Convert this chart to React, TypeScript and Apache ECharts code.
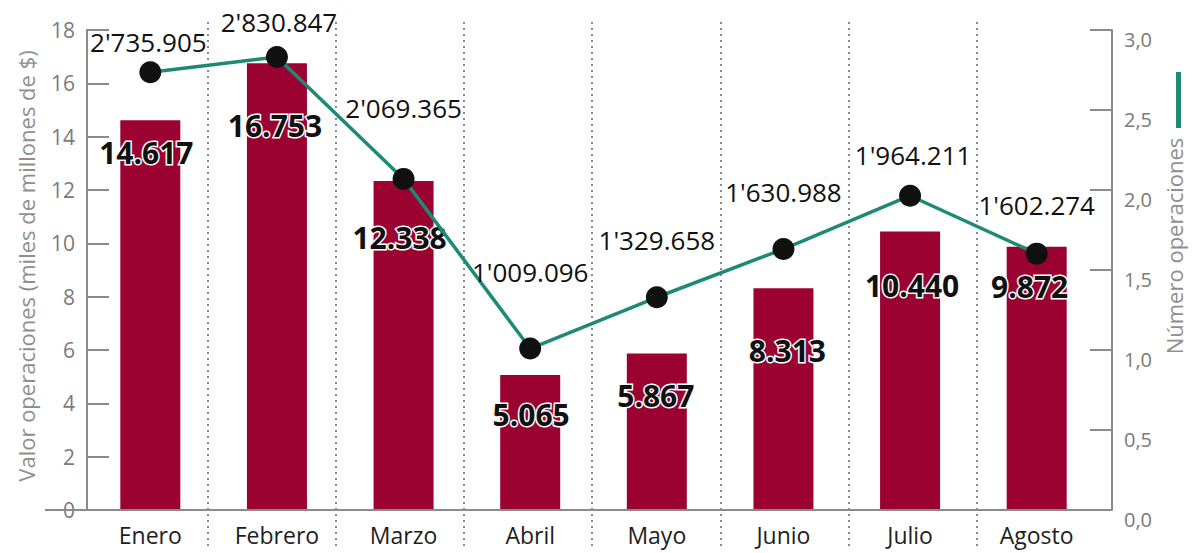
import React, { useEffect, useRef } from "react";
import * as echarts from "echarts";

const meses = ["Enero", "Febrero", "Marzo", "Abril", "Mayo", "Junio", "Julio", "Agosto"];
// Valor operaciones (miles de millones de $)
const valorOperaciones = [14.617, 16.753, 12.338, 5.065, 5.867, 8.313, 10.44, 9.872];
// Número de operaciones
const numeroOperaciones = [2735905, 2830847, 2069365, 1009096, 1329658, 1630988, 1964211, 1602274];

// label placement (style, not data)
const lineLabelOffsets = [[-2, -30], [2, -35], [0, -71], [0, -77], [0, -57], [0, -57], [3, -41], [0, -49]];
const barLabelOffsets = [[-4, 32], [-2, 62], [-4, 57], [1, 40], [-1, 42], [4, 62], [2, 54], [-7, 40]];

const BAR = "#9c0231";
const TEAL = "#1d8a76";
const FONT = "'Open Sans', 'DejaVu Sans', sans-serif";

function fmtCount(v: number): string {
  const s = String(Math.round(v));
  const millions = Math.floor(v / 1e6);
  const rest = s.slice(-6);
  return millions + "'" + rest.slice(0, 3) + "." + rest.slice(3);
}

export default function App() {
  const ref = useRef<HTMLDivElement>(null);
  useEffect(() => {
    document.body.style.margin = "0";
    const chart = echarts.init(ref.current!, null, { renderer: "svg" });
    chart.setOption({
      animation: false,
      backgroundColor: "#ffffff",
      grid: [
        { left: 87, right: 100, top: 30, bottom: 43 },
        { left: 79, right: 95, top: 22, bottom: 5 },
      ],
      legend: {
        show: true,
        orient: "vertical",
        left: 1171,
        top: 67,
        icon: "rect",
        itemWidth: 5,
        itemHeight: 56,
        formatter: () => "",
        selectedMode: false,
        data: [{ name: "Número operaciones", itemStyle: { color: TEAL } }],
      },
      xAxis: [
        {
          type: "category",
          gridIndex: 0,
          data: meses,
          axisLine: { show: false },
          axisTick: { show: false },
          axisLabel: { color: "#1e1e1e", fontSize: 23, fontFamily: FONT, margin: 13 },
        },
        {
          type: "category",
          gridIndex: 1,
          data: meses,
          axisLine: { show: false },
          axisTick: { show: false },
          axisLabel: { show: false },
          splitLine: {
            show: true,
            interval: 0,
            showMinLine: false,
            showMaxLine: false,
            lineStyle: { color: "#8a8a8a", width: 2, type: [2, 4] },
          },
        },
      ],
      yAxis: [
        {
          type: "value",
          gridIndex: 0,
          min: 0,
          max: 18,
          interval: 2,
          name: "Valor operaciones (miles de millones de $)",
          nameLocation: "middle",
          nameRotate: 90,
          nameGap: 50,
          nameTextStyle: { color: "#8f8f8f", fontSize: 22, fontFamily: FONT, padding: [0, 0, 0, 8] },
          axisLine: { show: true, lineStyle: { color: "#8a8a8a", width: 2 } },
          axisTick: { show: true, inside: true, length: 22, lineStyle: { color: "#8a8a8a", width: 2 } },
          axisLabel: { color: "#7a7a7a", fontSize: 21, fontFamily: FONT, margin: 12 },
          splitLine: { show: false },
        },
        {
          type: "value",
          gridIndex: 0,
          position: "right",
          offset: 12,
          min: 0,
          max: 3000000,
          interval: 500000,
          name: "Número operaciones",
          nameLocation: "middle",
          nameRotate: 90,
          nameGap: 48,
          nameTextStyle: { color: "#8f8f8f", fontSize: 22, fontFamily: FONT, padding: [0, 0, 0, 48] },
          axisLine: { show: true, lineStyle: { color: "#8a8a8a", width: 2 } },
          axisTick: { show: true, inside: true, length: 22, lineStyle: { color: "#8a8a8a", width: 2 } },
          axisLabel: {
            color: "#7a7a7a",
            fontSize: 20,
            fontFamily: FONT,
            margin: 12,
            verticalAlign: "top",
            lineHeight: 18,
            formatter: (v: number) => (v / 1e6).toFixed(1).replace(".", ","),
          },
          splitLine: { show: false },
        },
        {
          type: "value",
          gridIndex: 1,
          show: false,
          min: 0,
          max: 1,
        },
      ],
      graphic: [
        {
          type: "line",
          shape: { x1: 45, y1: 510, x2: 1112, y2: 510 },
          style: { stroke: "#8a8a8a", lineWidth: 2 },
          z: 10,
        },
      ],
      series: [
        {
          type: "bar",
          name: "Valor operaciones",
          xAxisIndex: 0,
          yAxisIndex: 0,
          barWidth: 60,
          itemStyle: { color: BAR },
          data: valorOperaciones.map((v, i) => ({
            value: v,
            label: {
              show: true,
              position: ["50%", 0],
              align: "center",
              verticalAlign: "middle",
              offset: barLabelOffsets[i],
              formatter: (p: any) => Number(p.value).toFixed(3),
              color: "#111",
              fontSize: 30,
              fontWeight: "bold",
              fontFamily: FONT,
              textBorderColor: "#ffffff",
              textBorderWidth: 3,
            },
          })),
          z: 2,
        },
        {
          type: "line",
          name: "Número operaciones",
          xAxisIndex: 0,
          yAxisIndex: 1,
          symbol: "circle",
          symbolSize: 22,
          color: TEAL,
          lineStyle: { color: TEAL, width: 3.5 },
          itemStyle: { color: "#111" },
          data: numeroOperaciones.map((v, i) => ({
            value: v,
            label: {
              show: true,
              position: "inside",
              align: "center",
              verticalAlign: "middle",
              offset: lineLabelOffsets[i],
              formatter: (p: any) => fmtCount(Number(p.value)),
              color: "#111",
              fontSize: 26,
              fontFamily: FONT,
            },
          })),
          z: 5,
        },
      ],
    });
    return () => chart.dispose();
  }, []);
  return (
    <div
      ref={ref}
      style={{ width: 1200, height: 553, position: "absolute", left: 0, top: 0 }}
    />
  );
}
